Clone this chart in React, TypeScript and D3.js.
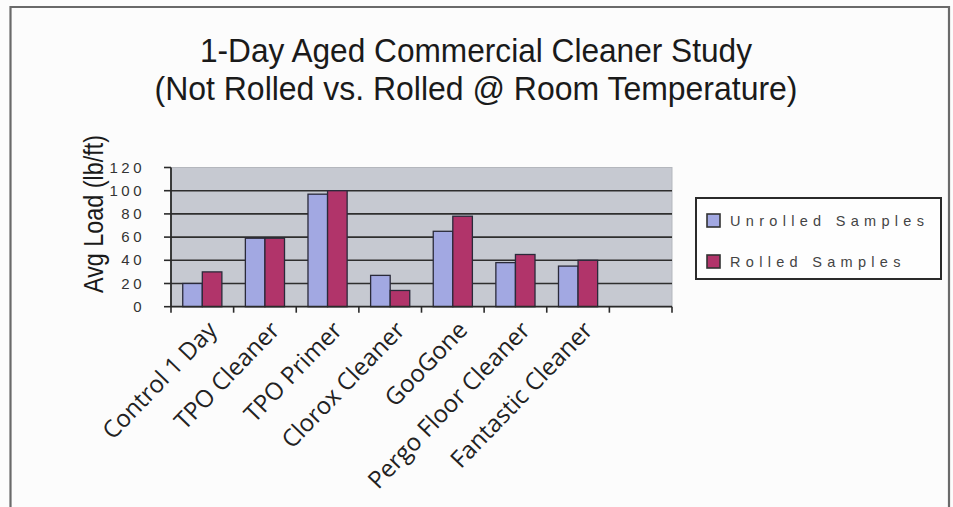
import React from "react";
import * as d3 from "d3";

const categories = [
  "Control 1 Day",
  "TPO Cleaner",
  "TPO Primer",
  "Clorox Cleaner",
  "GooGone",
  "Pergo Floor Cleaner",
  "Fantastic Cleaner",
  "",
];
const unrolled = [20, 59, 97, 27, 65, 38, 35, null];
const rolled = [30, 59, 100, 14, 78, 45, 40, null];
const yTicks = [0, 20, 40, 60, 80, 100, 120];
const seriesNames = ["Unrolled Samples", "Rolled Samples"];
const titleLines = [
  "1-Day Aged Commercial Cleaner Study",
  "(Not Rolled vs. Rolled @ Room Temperature)",
];

const W = 953;
const H = 507;
const plot = { left: 171, right: 672, top: 167.5, bottom: 306.7 };
const colors = ["#a2a8e2", "#b1346a"];
const titleWidths = [552, 643];

export default function App() {
  const x = d3
    .scaleBand<string>()
    .domain(categories.map((c, i) => String(i)))
    .range([plot.left, plot.right])
    .padding(0);
  const inner = d3
    .scaleBand<string>()
    .domain(["0", "1"])
    .range([0, x.bandwidth()])
    .paddingInner(0)
    .paddingOuter(0.6);
  const y = d3.scaleLinear().domain([0, 120]).range([plot.bottom, plot.top]);
  const series = [unrolled, rolled];
  const boundaries = d3.range(categories.length + 1).map((i) => plot.left + i * x.bandwidth());

  return (
    <svg
      width={W}
      height={H}
      style={{ position: "absolute", left: 0, top: 0, background: "#fcfcfc" }}
    >
      {/* outer frame */}
      <path d={`M10.5,${H} V7 H949 V${H}`} fill="none" stroke="#6a6a6a" strokeWidth={2.2} />
      {/* title */}
      {titleLines.map((t, i) => (
        <text
          key={i}
          x={476}
          y={62 + i * 38}
          textAnchor="middle"
          textLength={titleWidths[i]}
          lengthAdjust="spacingAndGlyphs"
          fontFamily="'Liberation Sans', Arial, sans-serif"
          fontSize={34}
          fill="#1a1a1a"
        >
          {t}
        </text>
      ))}
      {/* plot background */}
      <rect
        x={plot.left}
        y={plot.top}
        width={plot.right - plot.left}
        height={plot.bottom - plot.top}
        fill="#c6c9d1"
        stroke="#b4b7bd"
        strokeWidth={1}
      />
      {/* gridlines */}
      {yTicks
        .filter((t) => t > 0 && t < 120)
        .map((t) => (
          <line
            key={t}
            x1={plot.left}
            x2={plot.right}
            y1={y(t)}
            y2={y(t)}
            stroke="#2e2e2e"
            strokeWidth={1.6}
          />
        ))}
      {/* bars */}
      {series.map((vals, s) =>
        vals.map((v, i) =>
          v == null ? null : (
            <rect
              key={`${s}-${i}`}
              x={(x(String(i)) as number) + (inner(String(s)) as number)}
              y={y(v)}
              width={inner.bandwidth()}
              height={plot.bottom - y(v)}
              fill={colors[s]}
              stroke="#2a2a3a"
              strokeWidth={1.3}
            />
          )
        )
      )}
      {/* axes */}
      <line x1={plot.left} x2={plot.left} y1={plot.top} y2={plot.bottom} stroke="#2a2a2a" strokeWidth={1.8} />
      <line x1={plot.left} x2={plot.right} y1={plot.bottom} y2={plot.bottom} stroke="#2a2a2a" strokeWidth={1.8} />
      {yTicks.map((t) => (
        <g key={t}>
          <line x1={plot.left - 7} x2={plot.left} y1={y(t)} y2={y(t)} stroke="#2a2a2a" strokeWidth={1.6} />
          <text
            x={145}
            y={y(t) + 5}
            textAnchor="end"
            fontFamily="'Liberation Sans', Arial, sans-serif"
            fontSize={15}
            letterSpacing={3.5}
            fill="#333"
          >
            {String(t)}
          </text>
        </g>
      ))}
      {boundaries.map((bx, i) => (
        <line key={i} x1={bx} x2={bx} y1={plot.bottom} y2={plot.bottom + 6} stroke="#2a2a2a" strokeWidth={1.6} />
      ))}
      {/* x labels */}
      {categories.map((c, i) =>
        c ? (
          <text
            key={i}
            transform={`translate(${(x(String(i)) as number) + x.bandwidth() / 2 + 4},${plot.bottom + 13}) rotate(-46)`}
            textAnchor="end"
            dy="0.7em"
            fontFamily="'Open Sans', 'Noto Sans', sans-serif"
            fontSize={24}
            fill="#222"
          >
            {c}
          </text>
        ) : null
      )}
      {/* y title */}
      <text
        transform={`translate(103,214) rotate(-90)`}
        textAnchor="middle"
        textLength={158}
        lengthAdjust="spacingAndGlyphs"
        fontFamily="'Liberation Sans', Arial, sans-serif"
        fontSize={28}
        fill="#1a1a1a"
      >
        Avg Load (lb/ft)
      </text>
      {/* legend */}
      <rect x={696} y={198} width={245} height={81} fill="#fefefe" stroke="#2a2a2a" strokeWidth={2} />
      {seriesNames.map((n, i) => (
        <g key={n}>
          <rect x={707} y={214 + i * 41} width={13} height={13} fill={colors[i]} stroke="#333" strokeWidth={1.6} />
          <text
            x={730}
            y={226 + i * 41}
            fontFamily="'Liberation Sans', Arial, sans-serif"
            fontSize={14.5}
            letterSpacing={5.3}
            fill="#444"
          >
            {n}
          </text>
        </g>
      ))}
    </svg>
  );
}
